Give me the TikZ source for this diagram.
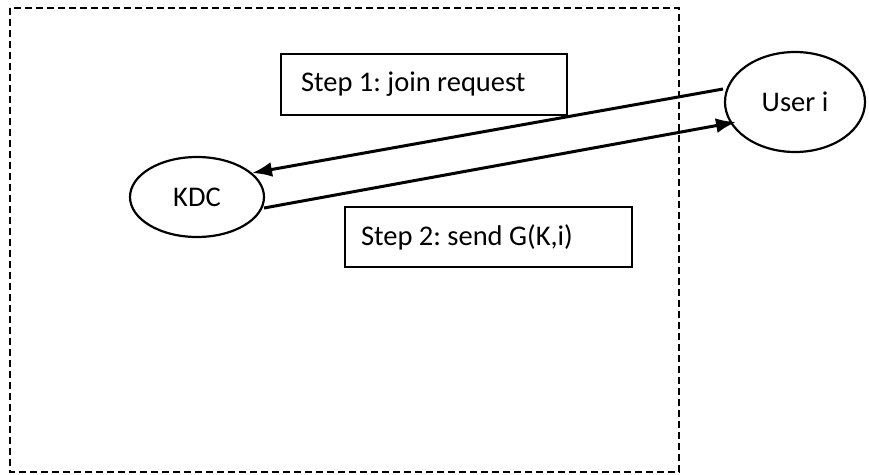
\documentclass[tikz,border=0pt]{standalone}
\usepackage{fontspec}
\setmainfont{Carlito}
\usetikzlibrary{arrows.meta,shapes.geometric}
\begin{document}
\begin{tikzpicture}[x=1pt,y=-1pt,
  every node/.style={font=\fontsize{28.5}{32}\selectfont\frenchspacing},
  frame/.style={draw,line width=1.8pt,dash pattern=on 7pt off 4pt},
  party/.style={draw,ellipse,line width=2.2pt,inner sep=0pt},
  label box/.style={draw,line width=2.4pt,rectangle,inner sep=0pt},
  msg/.style={line width=3pt,-{Latex[length=20pt,width=15pt]}}]
  \useasboundingbox (0,0) rectangle (869,474);
  % trust domain around the key distribution centre
  \draw[frame] (10,8) rectangle (679,472);
  % parties
  \node[party,minimum width=134pt,minimum height=80pt] (kdc) at (197,197) {KDC};
  \node[party,minimum width=140pt,minimum height=100pt] (user) at (795,102) {User i};
  % step labels
  \node[label box,minimum width=286pt,minimum height=61pt] (s1) at (424,84.5) {};
  \node[anchor=west,inner sep=0pt] (t1) at ([xshift=21pt]s1.west) {Step 1: join request};
  \node[label box,minimum width=287pt,minimum height=60pt] (s2) at (488.5,237) {};
  \node[anchor=west,inner sep=0pt] (t2) at ([xshift=17pt]s2.west) {Step 2: send G(K,i)};
  % messages
  \coordinate (u1) at (723,89);
  \coordinate (k1) at (252,173);
  \coordinate (k2) at (264,208);
  \coordinate (u2) at (736,122);
  \draw[msg] (u1) -- (k1);
  \draw[msg] (k2) -- (u2);
\end{tikzpicture}
\end{document}
